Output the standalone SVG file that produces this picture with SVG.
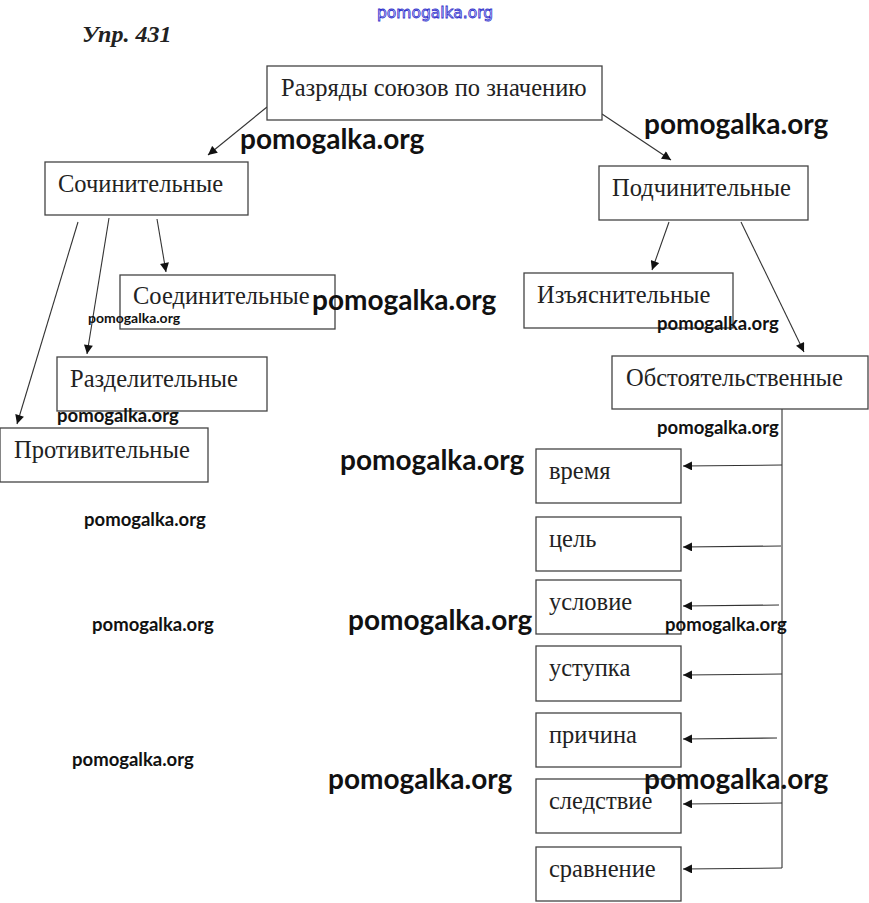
<svg xmlns="http://www.w3.org/2000/svg" width="869" height="903" viewBox="0 0 869 903">
<defs>
<marker id="ah" viewBox="0 0 10 10" refX="10" refY="5" markerWidth="11" markerHeight="9" markerUnits="userSpaceOnUse" orient="auto">
<path d="M0,0 L10,5 L0,10 Z" fill="#111"/>
</marker>
<style>
.box{fill:#fff;stroke:#444;stroke-width:1.3}
.t{font-family:"Liberation Serif","Times New Roman",serif;font-size:24.5px;fill:#222}
.c{fill:none;stroke:#333;stroke-width:1.1}
.a{marker-end:url(#ah)}
.wb{font-family:Lato,"Open Sans",sans-serif;font-weight:bold;font-size:28px;fill:#111}
.ws{font-family:Lato,"Open Sans",sans-serif;font-weight:bold;font-size:18.5px;fill:#111}
</style>
</defs>
<rect width="869" height="903" fill="#fff"/>
<text x="377" y="18" style="font-family:'DejaVu Sans',sans-serif;font-size:15.5px;fill:#dfe0ff;stroke:#3333cc;stroke-width:0.8">pomogalka.org</text>
<text x="82" y="42" style="font-family:'Liberation Serif',serif;font-weight:bold;font-style:italic;font-size:24px;fill:#222">Упр. 431</text>

<g id="connectors">
<line class="c a" x1="267" y1="107" x2="208" y2="155"/>
<line class="c a" x1="602" y1="114" x2="671" y2="160"/>
<line class="c a" x1="157" y1="219" x2="166" y2="272"/>
<line class="c a" x1="109" y1="218" x2="87" y2="354"/>
<line class="c a" x1="78" y1="222" x2="17" y2="424"/>
<line class="c a" x1="669" y1="222" x2="652" y2="270"/>
<line class="c a" x1="741" y1="222" x2="804" y2="352"/>
<polyline class="c" points="782,409 782,868"/>
<line class="c a" x1="782" y1="465" x2="683" y2="466"/>
<line class="c a" x1="781" y1="546" x2="683" y2="547"/>
<line class="c a" x1="779" y1="605" x2="683" y2="606"/>
<line class="c a" x1="782" y1="674" x2="683" y2="675"/>
<line class="c a" x1="777" y1="738" x2="683" y2="739"/>
<line class="c a" x1="782" y1="803" x2="683" y2="804"/>
<line class="c a" x1="782" y1="868" x2="683" y2="869"/>
</g>

<g id="root"><rect class="box" x="267" y="66" width="335" height="54"/><text class="t" x="281" y="96">Разряды союзов по значению</text></g>
<g id="sochin"><rect class="box" x="45" y="162" width="203" height="53"/><text class="t" x="58" y="192">Сочинительные</text></g>
<g id="podchin"><rect class="box" x="599" y="166" width="209" height="54"/><text class="t" x="612" y="196">Подчинительные</text></g>
<g id="soedin"><rect class="box" x="120" y="275" width="215" height="54"/><text class="t" x="133" y="304">Соединительные</text></g>
<g id="razdel"><rect class="box" x="57" y="357" width="210" height="54"/><text class="t" x="70" y="387">Разделительные</text></g>
<g id="protiv"><rect class="box" x="0" y="428" width="208" height="54"/><text class="t" x="14" y="458">Противительные</text></g>
<g id="izyasn"><rect class="box" x="524" y="273" width="209" height="55"/><text class="t" x="537" y="303">Изъяснительные</text></g>
<g id="obst"><rect class="box" x="612" y="356" width="256" height="53"/><text class="t" x="626" y="386">Обстоятельственные</text></g>
<g id="vremya"><rect class="box" x="536" y="449" width="145" height="54"/><text class="t" x="549" y="479">время</text></g>
<g id="tsel"><rect class="box" x="536" y="517" width="145" height="54"/><text class="t" x="549" y="547">цель</text></g>
<g id="uslovie"><rect class="box" x="536" y="580" width="145" height="54"/><text class="t" x="549" y="610">условие</text></g>
<g id="ustupka"><rect class="box" x="536" y="646" width="145" height="55"/><text class="t" x="549" y="676">уступка</text></g>
<g id="prichina"><rect class="box" x="536" y="713" width="145" height="54"/><text class="t" x="549" y="743">причина</text></g>
<g id="sledstvie"><rect class="box" x="536" y="779" width="145" height="54"/><text class="t" x="549" y="809">следствие</text></g>
<g id="sravnenie"><rect class="box" x="536" y="847" width="145" height="54"/><text class="t" x="549" y="877">сравнение</text></g>

<g id="watermarks">
<text class="wb" x="240" y="149">pomogalka.org</text>
<text class="wb" x="644" y="134">pomogalka.org</text>
<text class="wb" x="312" y="310">pomogalka.org</text>
<text class="wb" x="340" y="470">pomogalka.org</text>
<text class="wb" x="348" y="630">pomogalka.org</text>
<text class="wb" x="328" y="789">pomogalka.org</text>
<text class="wb" x="644" y="789">pomogalka.org</text>
<text class="ws" x="88" y="323" style="font-size:14px">pomogalka.org</text>
<text class="ws" x="57" y="422">pomogalka.org</text>
<text class="ws" x="657" y="330">pomogalka.org</text>
<text class="ws" x="657" y="434">pomogalka.org</text>
<text class="ws" x="84" y="526">pomogalka.org</text>
<text class="ws" x="92" y="631">pomogalka.org</text>
<text class="ws" x="665" y="631">pomogalka.org</text>
<text class="ws" x="72" y="766">pomogalka.org</text>
</g>
</svg>
